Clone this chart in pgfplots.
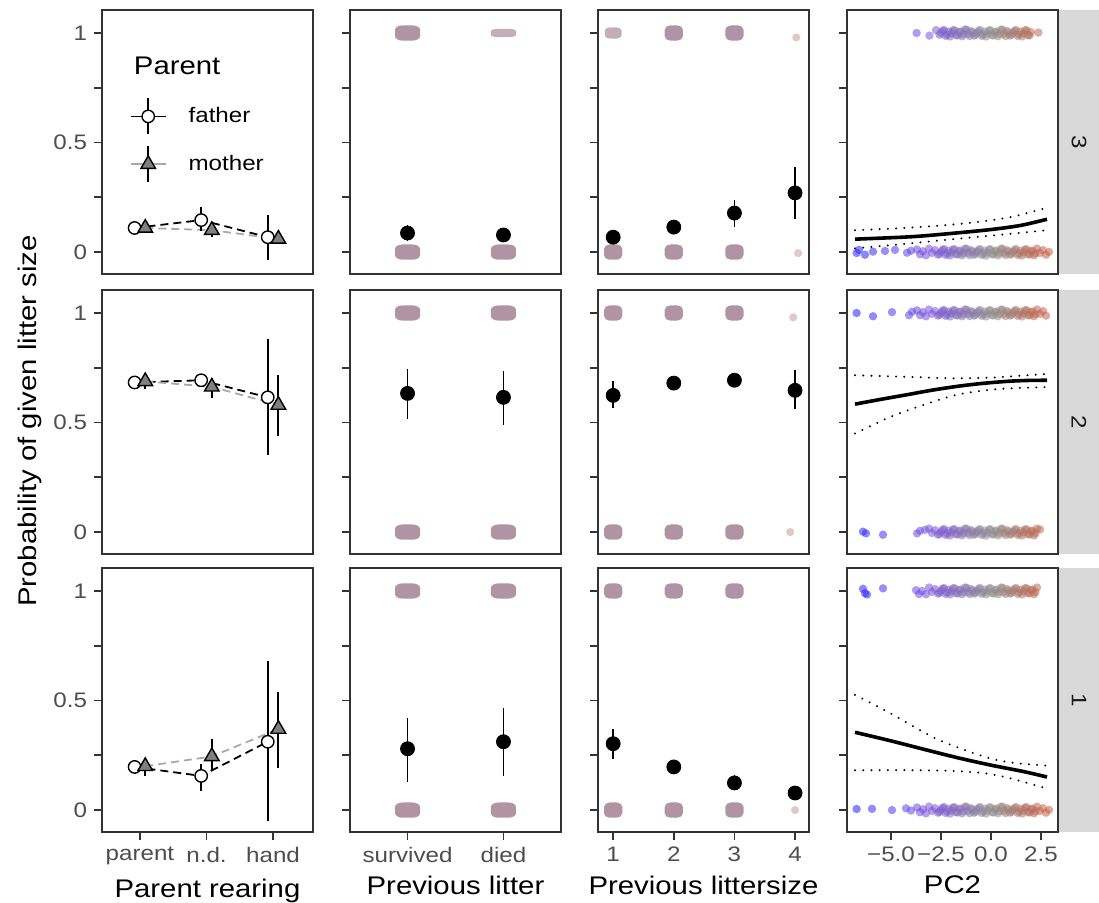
\documentclass[border=0pt]{standalone}
\usepackage{fontspec}
\setmainfont{Liberation Sans}[FakeStretch=1.15]
\usepackage{pgfplots}
\usepackage{pgfplotstable}
\pgfplotsset{compat=1.18}

\definecolor{axgray}{HTML}{333333}
\definecolor{labgray}{HTML}{4D4D4D}
\definecolor{blobc}{RGB}{176,148,164}
\definecolor{blobl}{RGB}{196,174,186}
\definecolor{tinyc}{RGB}{226,200,196}
\definecolor{stripc}{HTML}{D9D9D9}
\definecolor{momfill}{HTML}{7F7F7F}
\definecolor{momline}{HTML}{A9A9A9}

\newcommand\tickfont{\fontsize{10.5}{12.6}\selectfont}
\newcommand\titlefont{\fontsize{12.75}{15.3}\selectfont}

\pgfdeclareplotmark{blob}{%
  \pgfpathmoveto{\pgfqpoint{-0.4\pgfplotmarksize}{-\pgfplotmarksize}}%
  \pgfpathlineto{\pgfqpoint{0.4\pgfplotmarksize}{-\pgfplotmarksize}}%
  \pgfpatharc{-90}{0}{0.6\pgfplotmarksize}%
  \pgfpathlineto{\pgfqpoint{\pgfplotmarksize}{0.4\pgfplotmarksize}}%
  \pgfpatharc{0}{90}{0.6\pgfplotmarksize}%
  \pgfpathlineto{\pgfqpoint{-0.4\pgfplotmarksize}{\pgfplotmarksize}}%
  \pgfpatharc{90}{180}{0.6\pgfplotmarksize}%
  \pgfpathlineto{\pgfqpoint{-\pgfplotmarksize}{-0.4\pgfplotmarksize}}%
  \pgfpatharc{180}{270}{0.6\pgfplotmarksize}%
  \pgfpathclose
  \pgfusepathqfill}

\pgfplotsset{
  colormap={pcmap}{rgb255(0cm)=(30,30,255) rgb255(4cm)=(125,85,220) rgb255(7cm)=(145,145,145) rgb255(10cm)=(205,95,70)},
  panel/.style={scale only axis, width=105.5pt, height=132pt, anchor=north west,
    ymin=-0.1, ymax=1.105, ytick={0,0.25,0.5,0.75,1}, yticklabel=\empty,
    xtick=\empty, tick pos=left, tick align=outside, major tick length=4pt,
    tick style={draw=axgray, line width=0.9pt},
    axis line style={draw=axgray, line width=0.9pt},
    ticklabel style={font=\tickfont, text=labgray},
    label style={font=\titlefont, text=black}},
  leftcol/.style={yticklabels={0,,0.5,,1}},
  c1/.style={xmin=0.43, xmax=3.6},
  c2/.style={xmin=0.4, xmax=2.6},
  c3/.style={xmin=0.75, xmax=4.23},
  c4/.style={xmin=-7.2, xmax=3.35, colormap name=pcmap, point meta min=-7, point meta max=3},
  b1/.style={xtick={1,2,3}, xticklabels={parent,n.d.,hand}, xlabel={Parent rearing}},
  b2/.style={xtick={1,2}, xticklabels={survived,died}, xlabel={Previous litter}},
  b3/.style={xtick={1,2,3,4}, xticklabels={1,2,3,4}, xlabel={Previous littersize}},
  b4/.style={xtick={-5,-2.5,0,2.5}, xticklabels={−5.0,−2.5,0.0,2.5}, xlabel={PC2}},
  errb/.style={only marks, mark=none, error bars/y dir=both, error bars/y explicit,
    error bars/error mark=none, error bars/error bar style={line width=0.9pt, black}},
  dot/.style={only marks, mark=*, mark size=3.5pt, black},
  fatl/.style={black, line width=0.9pt, dash pattern=on 4pt off 2.5pt, mark=none},
  moml/.style={momline, line width=0.9pt, dash pattern=on 4pt off 2.5pt, mark=none},
  fatm/.style={only marks, mark=*, mark size=3.1pt, mark options={fill=white, draw=black, line width=0.7pt}},
  momm/.style={only marks, mark=triangle*, mark size=4.2pt, mark options={fill=momfill, draw=black, line width=0.7pt}},
  blobs/.style={only marks, mark=blob, mark size=3.8pt, blobc, mark options={xscale=#1}},
  tiny/.style={only marks, mark=*, mark size=1.8pt, tinyc, mark options={draw=none}},
  cloud/.style={scatter, only marks, mark=*, mark size=2.1pt, point meta=x,
    scatter/use mapped color={draw=mapped color, fill=mapped color, draw opacity=0, fill opacity=0.55}},
  fitl/.style={black, line width=1.8pt, smooth, mark=none},
  cil/.style={black, line width=1.1pt, line cap=round, dash pattern=on 0.01pt off 4.1pt, smooth, mark=none},
}

% Parent rearing (x y err+ err-)
\pgfplotstableread{
x y ep em
0.92 0.110 0.012 0.012
1.92 0.146 0.060 0.050
2.92 0.068 0.102 0.105
}\fatC
\pgfplotstableread{
x y ep em
1.08 0.110 0.012 0.012
2.08 0.100 0.030 0.030
3.08 0.060 0.025 0.025
}\momC
\pgfplotstableread{
x y ep em
0.92 0.683 0.020 0.020
1.92 0.693 0.022 0.022
2.92 0.615 0.265 0.262
}\fatB
\pgfplotstableread{
x y ep em
1.08 0.688 0.033 0.035
2.08 0.663 0.040 0.050
3.08 0.580 0.135 0.140
}\momB
\pgfplotstableread{
x y ep em
0.92 0.197 0.030 0.030
1.92 0.156 0.055 0.070
2.92 0.312 0.368 0.362
}\fatA
\pgfplotstableread{
x y ep em
1.08 0.200 0.040 0.045
2.08 0.245 0.080 0.065
3.08 0.370 0.170 0.180
}\momA
% Previous litter
\pgfplotstableread{
x y ep em
1 0.087 0.035 0.035
2 0.078 0.030 0.030
}\plC
\pgfplotstableread{
x y ep em
1 0.633 0.110 0.119
2 0.615 0.119 0.125
}\plB
\pgfplotstableread{
x y ep em
1 0.280 0.142 0.152
2 0.312 0.156 0.156
}\plA
% Previous littersize
\pgfplotstableread{
x y ep em
1 0.068 0.015 0.015
2 0.114 0.020 0.020
3 0.178 0.062 0.064
4 0.270 0.120 0.120
}\lsC
\pgfplotstableread{
x y ep em
1 0.624 0.064 0.059
2 0.680 0.030 0.030
3 0.693 0.028 0.028
4 0.647 0.091 0.087
}\lsB
\pgfplotstableread{
x y ep em
1 0.303 0.067 0.069
2 0.197 0.033 0.033
3 0.124 0.036 0.030
4 0.078 0.033 0.033
}\lsA
% PC2 jittered observations (dense part)
\pgfplotstableread{
x yt yb
-3.70 1.012 0.012
-3.55 0.990 -0.010
-3.40 1.004 0.004
-3.25 0.985 -0.015
-3.10 1.016 0.016
-2.95 0.996 -0.004
-2.80 1.009 0.009
-2.65 0.988 -0.012
-2.50 1.001 0.001
-2.35 1.014 0.014
-2.20 0.993 -0.007
-2.05 0.984 -0.016
-1.90 1.012 0.012
-1.75 0.990 -0.010
-1.60 1.004 0.004
-1.45 0.985 -0.015
-1.30 1.016 0.016
-1.15 0.996 -0.004
-1.00 1.009 0.009
-0.85 0.988 -0.012
-0.70 1.001 0.001
-0.55 1.014 0.014
-0.40 0.993 -0.007
-0.25 0.984 -0.016
-0.10 1.012 0.012
0.05 0.990 -0.010
0.20 1.004 0.004
0.35 0.985 -0.015
0.50 1.016 0.016
0.65 0.996 -0.004
0.80 1.009 0.009
0.95 0.988 -0.012
1.10 1.001 0.001
1.25 1.014 0.014
1.40 0.993 -0.007
1.55 0.984 -0.016
1.70 1.012 0.012
1.85 0.990 -0.010
2.00 1.004 0.004
2.15 0.985 -0.015
2.30 1.016 0.016
2.45 0.996 -0.004
2.60 1.009 0.009
2.75 0.988 -0.012
2.90 1.001 0.001
}\denseA
\pgfplotstableread{
x yt yb
-2.575 0.992 -0.008
-2.425 1.010 0.010
-2.275 0.987 -0.013
-2.125 1.006 0.006
-1.975 0.998 -0.002
-1.825 1.013 0.013
-1.675 0.989 -0.011
-1.525 1.007 0.007
-1.375 0.995 -0.005
-1.225 1.015 0.015
-1.075 0.986 -0.014
-0.925 1.003 0.003
-0.775 0.992 -0.008
-0.625 1.010 0.010
-0.475 0.987 -0.013
-0.325 1.006 0.006
-0.175 0.998 -0.002
-0.025 1.013 0.013
0.125 0.989 -0.011
0.275 1.007 0.007
0.425 0.995 -0.005
0.575 1.015 0.015
0.725 0.986 -0.014
0.875 1.003 0.003
1.025 0.992 -0.008
1.175 1.010 0.010
1.325 0.987 -0.013
1.475 1.006 0.006
1.625 0.998 -0.002
1.775 1.013 0.013
1.925 0.989 -0.011
2.075 1.007 0.007
2.225 0.995 -0.005
}\denseB

\begin{document}
\begin{tikzpicture}
\fill[white] (0pt,0pt) rectangle (549.5pt,-451.5pt);
\path[use as bounding box] (0pt,0pt) rectangle (549.5pt,-451.5pt);

% facet strips
\fill[stripc] (529pt,-5pt) rectangle (549.5pt,-137pt);
\fill[stripc] (529pt,-145pt) rectangle (549.5pt,-277pt);
\fill[stripc] (529pt,-284pt) rectangle (549.5pt,-416pt);
\node[rotate=-90, font=\tickfont, text=black!90] at (539.5pt,-71pt) {3};
\node[rotate=-90, font=\tickfont, text=black!90] at (539.5pt,-211pt) {2};
\node[rotate=-90, font=\tickfont, text=black!90] at (539.5pt,-350pt) {1};

\node[rotate=90, font=\titlefont] at (15pt,-210.5pt) {Probability of given litter size};

% ================= ROW 1 (litter size 3)
\begin{axis}[panel, c1, leftcol, at={(51pt,-5pt)},
  legend style={at={(0.13,0.67)}, anchor=north west, draw=none, fill=none,
    font=\tickfont, row sep=5pt, column sep=9pt, inner sep=0pt},
  legend cell align=left]
\addlegendimage{legend image code/.code={
  \draw[black, line width=0.9pt] (0pt,0pt) -- (17.5pt,0pt);
  \draw[black, line width=0.9pt] (8.75pt,-9pt) -- (8.75pt,9pt);
  \draw[black, fill=white, line width=0.7pt] (8.75pt,0pt) circle (3.1pt);}}
\addlegendentry{father}
\addlegendimage{legend image code/.code={
  \draw[momline, line width=0.9pt] (0pt,0pt) -- (17.5pt,0pt);
  \draw[black, line width=0.9pt] (8.75pt,-9pt) -- (8.75pt,9pt);
  \draw[black, fill=momfill, line width=0.7pt] (8.75pt,4.2pt) -- (12.39pt,-2.1pt) -- (5.11pt,-2.1pt) -- cycle;}}
\addlegendentry{mother}
\node[anchor=base west, font=\titlefont] at (rel axis cs:0.118,0.754) {Parent};
\addplot[fatl] table[x=x,y=y] {\fatC};
\addplot[moml] table[x=x,y=y] {\momC};
\addplot[errb] table[x=x,y=y,y error plus=ep,y error minus=em] {\fatC};
\addplot[fatm] table[x=x,y=y] {\fatC};
\addplot[errb] table[x=x,y=y,y error plus=ep,y error minus=em] {\momC};
\addplot[momm] table[x=x,y=y] {\momC};
\end{axis}

\begin{axis}[panel, c2, at={(175pt,-5pt)}]
\addplot[blobs=1.65] coordinates {(1,1) (1,0) (2,0)};
\addplot[blobs=3, mark size=2.1pt, blobl] coordinates {(2,1)};
\addplot[errb] table[x=x,y=y,y error plus=ep,y error minus=em] {\plC};
\addplot[dot] table[x=x,y=y] {\plC};
\end{axis}

\begin{axis}[panel, c3, at={(299pt,-5pt)}]
\addplot[blobs=1.2] coordinates {(2,1) (3,1) (1,0) (2,0) (3,0)};
\addplot[blobs=1.5, mark size=2.8pt, blobl] coordinates {(1,1)};
\addplot[tiny] coordinates {(4.02,0.98) (4.05,-0.005)};
\addplot[errb] table[x=x,y=y,y error plus=ep,y error minus=em] {\lsC};
\addplot[dot] table[x=x,y=y] {\lsC};
\end{axis}

\begin{axis}[panel, c4, at={(423.5pt,-5pt)}]
\addplot[cloud, restrict x to domain=-2.6:2.0] table[x=x,y=yt] {\denseA};
\addplot[cloud, restrict x to domain=-2.6:2.0] table[x=x,y=yt] {\denseB};
\addplot[cloud] coordinates {(-3.72,1.0) (-3.08,0.988) (-2.75,1.013) (2.37,1.002)};
\addplot[cloud, restrict x to domain=-3.75:2.95] table[x=x,y=yb] {\denseA};
\addplot[cloud] table[x=x,y=yb] {\denseB};
\addplot[cloud] coordinates {(-6.72,-0.004) (-6.6,0.01) (-6.3,-0.012) (-5.9,0.002) (-5.3,0.005) (-4.8,0.01) (-4.2,-0.003) (-4.0,0.006)};
\addplot[fitl] coordinates {(-6.8,0.059) (-4,0.070) (-2,0.085) (0,0.103) (1.5,0.122) (2.8,0.150)};
\addplot[cil] coordinates {(-6.8,0.100) (-5,0.107) (-3,0.118) (-1,0.134) (1,0.160) (2.8,0.203)};
\addplot[cil] coordinates {(-6.8,0.017) (-4,0.040) (-2,0.058) (0,0.075) (1.5,0.088) (2.8,0.100)};
\end{axis}

% ================= ROW 2 (litter size 2)
\begin{axis}[panel, c1, leftcol, at={(51pt,-145pt)}]
\addplot[fatl] table[x=x,y=y] {\fatB};
\addplot[moml] table[x=x,y=y] {\momB};
\addplot[errb] table[x=x,y=y,y error plus=ep,y error minus=em] {\fatB};
\addplot[fatm] table[x=x,y=y] {\fatB};
\addplot[errb] table[x=x,y=y,y error plus=ep,y error minus=em] {\momB};
\addplot[momm] table[x=x,y=y] {\momB};
\end{axis}

\begin{axis}[panel, c2, at={(175pt,-145pt)}]
\addplot[blobs=1.65] coordinates {(1,1) (2,1) (1,0) (2,0)};
\addplot[errb] table[x=x,y=y,y error plus=ep,y error minus=em] {\plB};
\addplot[dot] table[x=x,y=y] {\plB};
\end{axis}

\begin{axis}[panel, c3, at={(299pt,-145pt)}]
\addplot[blobs=1.2] coordinates {(1,1) (2,1) (3,1) (1,0) (2,0) (3,0)};
\addplot[tiny] coordinates {(3.97,0.98) (3.92,0.0)};
\addplot[errb] table[x=x,y=y,y error plus=ep,y error minus=em] {\lsB};
\addplot[dot] table[x=x,y=y] {\lsB};
\end{axis}

\begin{axis}[panel, c4, at={(423.5pt,-145pt)}]
\addplot[cloud, restrict x to domain=-3.75:2.8] table[x=x,y=yt] {\denseA};
\addplot[cloud] table[x=x,y=yt] {\denseB};
\addplot[cloud] coordinates {(-6.72,1.0) (-5.9,0.985) (-4.95,1.004) (-4.1,0.99) (-3.95,1.006)};
\addplot[cloud, restrict x to domain=-3.15:2.35] table[x=x,y=yb] {\denseA};
\addplot[cloud] table[x=x,y=yb] {\denseB};
\addplot[cloud] coordinates {(-6.4,0.002) (-6.25,-0.006) (-5.4,-0.012) (-3.7,-0.006) (-3.55,0.006) (-3.3,0.01) (2.45,0.012)};
\addplot[fitl] coordinates {(-6.8,0.584) (-5.5,0.606) (-4.2,0.627) (-3,0.647) (-1.7,0.665) (-0.5,0.678) (0.8,0.688) (1.8,0.692) (2.8,0.693)};
\addplot[cil] coordinates {(-6.8,0.716) (-4,0.708) (-2,0.702) (0,0.705) (1.5,0.714) (2.8,0.722)};
\addplot[cil] coordinates {(-6.8,0.450) (-5.05,0.525) (-3.4,0.580) (-1.7,0.627) (0,0.650) (1.2,0.657) (2.8,0.662)};
\end{axis}

% ================= ROW 3 (litter size 1)
\begin{axis}[panel, c1, leftcol, b1, at={(51pt,-284pt)}]
\addplot[fatl] table[x=x,y=y] {\fatA};
\addplot[moml] table[x=x,y=y] {\momA};
\addplot[errb] table[x=x,y=y,y error plus=ep,y error minus=em] {\fatA};
\addplot[fatm] table[x=x,y=y] {\fatA};
\addplot[errb] table[x=x,y=y,y error plus=ep,y error minus=em] {\momA};
\addplot[momm] table[x=x,y=y] {\momA};
\end{axis}

\begin{axis}[panel, c2, b2, at={(175pt,-284pt)}]
\addplot[blobs=1.65] coordinates {(1,1) (2,1) (1,0) (2,0)};
\addplot[errb] table[x=x,y=y,y error plus=ep,y error minus=em] {\plA};
\addplot[dot] table[x=x,y=y] {\plA};
\end{axis}

\begin{axis}[panel, c3, b3, at={(299pt,-284pt)}]
\addplot[blobs=1.2] coordinates {(1,1) (2,1) (3,1) (1,0) (2,0) (3,0)};
\addplot[tiny] coordinates {(4.0,0.0)};
\addplot[errb] table[x=x,y=y,y error plus=ep,y error minus=em] {\lsA};
\addplot[dot] table[x=x,y=y] {\lsA};
\end{axis}

\begin{axis}[panel, c4, b4, at={(423.5pt,-284pt)}]
\addplot[cloud, restrict x to domain=-3.3:2.4] table[x=x,y=yt] {\denseA};
\addplot[cloud] table[x=x,y=yt] {\denseB};
\addplot[cloud] coordinates {(-6.4,1.01) (-6.3,0.99) (-6.2,0.984) (-5.4,1.012) (-3.75,1.004) (-3.6,0.986) (-3.45,1.0)};
\addplot[cloud, restrict x to domain=-3.75:2.9] table[x=x,y=yb] {\denseA};
\addplot[cloud] table[x=x,y=yb] {\denseB};
\addplot[cloud] coordinates {(-6.72,0.005) (-5.95,0.006) (-4.95,0.0) (-4.25,0.008) (-4.0,-0.002)};
\addplot[fitl] coordinates {(-6.8,0.355) (-5.05,0.317) (-3.38,0.278) (-1.72,0.240) (-0.05,0.206) (1.62,0.176) (2.8,0.151)};
\addplot[cil] coordinates {(-6.8,0.526) (-5.05,0.443) (-2.7,0.324) (-0.2,0.240) (1.2,0.215) (2.8,0.203)};
\addplot[cil] coordinates {(-6.8,0.182) (-4,0.182) (-2,0.179) (-0.5,0.170) (0.5,0.155) (1.5,0.132) (2.8,0.098)};
\end{axis}
\end{tikzpicture}
\end{document}
